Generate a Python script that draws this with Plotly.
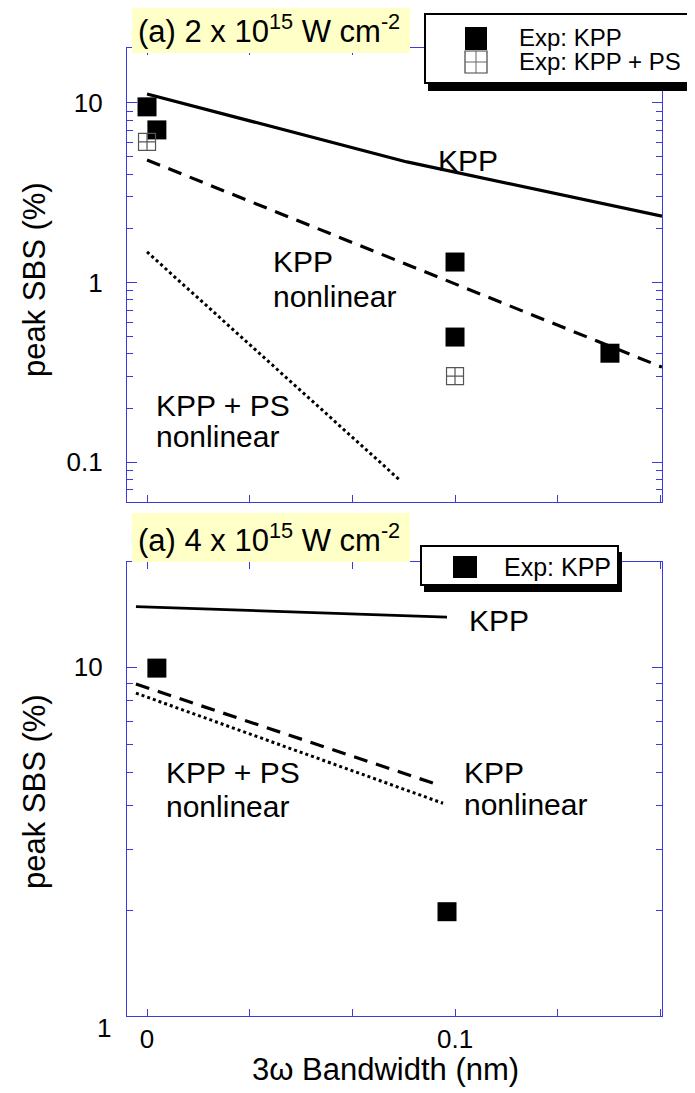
import plotly.graph_objects as go
import numpy as np

# page offset of the plot div (browser default body margin)
OX, OY = 8, 8
W, H = 687, 1085

# ---------------- data ----------------
# Top panel: 2 x 10^15 W cm^-2
top_kpp_x = [0.0, 0.0844, 0.1672]
top_kpp_y = [11.2, 4.69, 2.34]
top_kppnl_x = [0.0, 0.1672]
top_kppnl_y = [4.81, 0.338]
top_kppps_x = [0.0, 0.0821]
top_kppps_y = [1.48, 0.0794]
top_exp_kpp_x = [0.0, 0.0032, 0.1, 0.1, 0.1503]
top_exp_kpp_y = [9.5, 7.07, 1.30, 0.497, 0.404]
top_exp_ps_x = [0.0, 0.1]
top_exp_ps_y = [6.06, 0.301]

# Bottom panel: 4 x 10^15 W cm^-2
bot_kpp_x = [-0.0036, 0.0974]
bot_kpp_y = [14.9, 13.9]
bot_kppnl_x = [-0.0036, 0.0938]
bot_kppnl_y = [8.94, 4.62]
bot_kppps_x = [-0.0036, 0.0961]
bot_kppps_y = [8.42, 4.07]
bot_exp_kpp_x = [0.0032, 0.0974]
bot_exp_kpp_y = [9.93, 1.99]

x_tickvals = [0, 1/30, 2/30, 0.1, 4/30, 5/30]
x_ticktext = ["0", "", "", "0.1", "", ""]
top_y_tickvals = [0.1, 1, 10]
top_y_ticktext = ["0.1", "1", "10"]
bot_y_tickvals = [1, 10]
bot_y_ticktext = ["", "10"]

FONT = "Liberation Sans, Arial, Helvetica, sans-serif"
AXC = "#3a3ae0"


def px(x):
    return (x - OX) / W


def py(y):
    return 1 - (y - OY) / H


fig = go.Figure()

line_specs = [
    (top_kpp_x, top_kpp_y, None, 3.2, "x", "y"),
    (top_kppnl_x, top_kppnl_y, "14px,9px", 3.2, "x", "y"),
    (top_kppps_x, top_kppps_y, "3px,3px", 3.0, "x", "y"),
    (bot_kpp_x, bot_kpp_y, None, 2.6, "x2", "y2"),
    (bot_kppnl_x, bot_kppnl_y, "14px,9px", 3.2, "x2", "y2"),
    (bot_kppps_x, bot_kppps_y, "3px,3px", 3.0, "x2", "y2"),
]
for xs, ys, dash, w, xa, ya in line_specs:
    ln = dict(color="black", width=w)
    if dash:
        ln["dash"] = dash
    fig.add_trace(go.Scatter(x=xs, y=ys, mode="lines", line=ln,
                             xaxis=xa, yaxis=ya, showlegend=False,
                             hoverinfo="skip"))

fig.add_trace(go.Scatter(x=top_exp_kpp_x, y=top_exp_kpp_y, mode="markers",
                         marker=dict(symbol="square", size=19, color="black",
                                     line=dict(width=0)),
                         xaxis="x", yaxis="y", showlegend=False))
fig.add_trace(go.Scatter(x=top_exp_ps_x, y=top_exp_ps_y, mode="markers",
                         marker=dict(symbol="square-cross-open", size=17,
                                     color="#555555", line=dict(width=1.2)),
                         xaxis="x", yaxis="y", showlegend=False))
fig.add_trace(go.Scatter(x=bot_exp_kpp_x, y=bot_exp_kpp_y, mode="markers",
                         marker=dict(symbol="square", size=19, color="black",
                                     line=dict(width=0)),
                         xaxis="x2", yaxis="y2", showlegend=False))

xdom = [px(127), px(662)]
xrange = [-0.0065, 0.1672]

common_x = dict(domain=xdom, range=xrange, tickmode="array",
                tickvals=x_tickvals, ticks="inside", ticklen=7,
                tickcolor=AXC, tickwidth=1, showline=True, linecolor=AXC,
                linewidth=1.2, mirror="ticks", showgrid=False, zeroline=False,
                tickfont=dict(family=FONT, size=26, color="black"))
common_y = dict(type="log", ticks="inside", ticklen=10, tickcolor=AXC,
                tickwidth=1, showline=True, linecolor=AXC, linewidth=1.2,
                mirror="ticks", showgrid=False, zeroline=False,
                tickmode="array",
                minor=dict(ticks="inside", ticklen=6, tickcolor=AXC,
                           tickwidth=1, dtick="D1", showgrid=False),
                tickfont=dict(family=FONT, size=26, color="black"),
                ticklabelstandoff=18)

fig.update_layout(
    width=W, height=H,
    margin=dict(l=0, r=0, t=0, b=0),
    paper_bgcolor="white", plot_bgcolor="white",
    showlegend=False,
    xaxis=dict(**common_x, anchor="y", ticktext=["" for _ in x_ticktext]),
    yaxis=dict(**common_y, domain=[py(502), py(48)],
               range=[np.log10(0.06), np.log10(20.2)],
               tickvals=top_y_tickvals, ticktext=top_y_ticktext, anchor="x"),
    xaxis2=dict(**common_x, anchor="y2", ticktext=x_ticktext,
                ticklabelstandoff=0),
    yaxis2=dict(**common_y, domain=[py(1016), py(562)],
                range=[0, np.log10(20.0)],
                tickvals=bot_y_tickvals, ticktext=bot_y_ticktext, anchor="x2"),
)

shapes = []
ann = []


def rect(x0, y0, x1, y1, fill, lc=None, lw=0):
    d = dict(type="rect", xref="paper", yref="paper", x0=px(x0), x1=px(x1),
             y0=py(y1), y1=py(y0), fillcolor=fill, layer="above",
             line=dict(width=lw, color=lc if lc else fill))
    shapes.append(d)


def seg(x0, y0, x1, y1, color, w):
    shapes.append(dict(type="line", xref="paper", yref="paper", x0=px(x0),
                       x1=px(x1), y0=py(y0), y1=py(y1), layer="above",
                       line=dict(color=color, width=w)))


def text(t, x, y, size, xanchor="left", angle=0):
    ann.append(dict(text=t, x=px(x), y=py(y), xref="paper", yref="paper",
                    xanchor=xanchor, yanchor="middle", showarrow=False,
                    textangle=angle,
                    font=dict(family=FONT, size=size, color="black")))


# Title boxes
rect(132, 5, 410, 53, "#ffffc8")
rect(132, 513, 410, 562, "#ffffc8")
text("(a) 2 x 10<sup>15</sup> W cm<sup>-2</sup>", 136, 29, 31)
text("(a) 4 x 10<sup>15</sup> W cm<sup>-2</sup>", 136, 538, 31)

# Legend top
rect(428, 21, 691, 91, "black")
rect(425, 14, 688, 83, "white", "black", 2)
rect(465, 27, 487, 50, "black")
rect(465, 51, 487, 73, "white", "#444444", 1.2)
seg(476, 51, 476, 73, "#666666", 1)
seg(465, 62, 487, 62, "#666666", 1)
text("Exp: KPP", 517, 38, 24)
text("Exp: KPP + PS", 517, 62, 24)

# Legend bottom
rect(424, 552, 622, 592, "black")
rect(421, 546, 618, 585, "white", "black", 2)
rect(453, 556, 477, 578, "black")
text("Exp: KPP", 502, 567, 25)

# Curve labels
text("KPP", 436, 160, 30)
text("KPP", 271, 262, 30)
text("nonlinear", 271, 296, 30)
text("KPP + PS", 154, 405, 30)
text("nonlinear", 154, 436, 30)
text("KPP", 467, 620, 30)
text("KPP", 462, 772, 30)
text("nonlinear", 462, 804, 30)
text("KPP + PS", 164, 772, 30)
text("nonlinear", 164, 806, 30)

# Axis titles
text("peak SBS (%)", 34, 280, 31, xanchor="center", angle=-90)
text("peak SBS (%)", 34, 792, 31, xanchor="center", angle=-90)
text("3\u03c9 Bandwidth (nm)", 385, 1069, 31, xanchor="center")
# bottom "1" tick label (drawn slightly below the axis as in the original)
text("1", 113, 1028, 26, xanchor="right")

fig.update_layout(shapes=shapes, annotations=ann)
fig.write_html("out.html")
